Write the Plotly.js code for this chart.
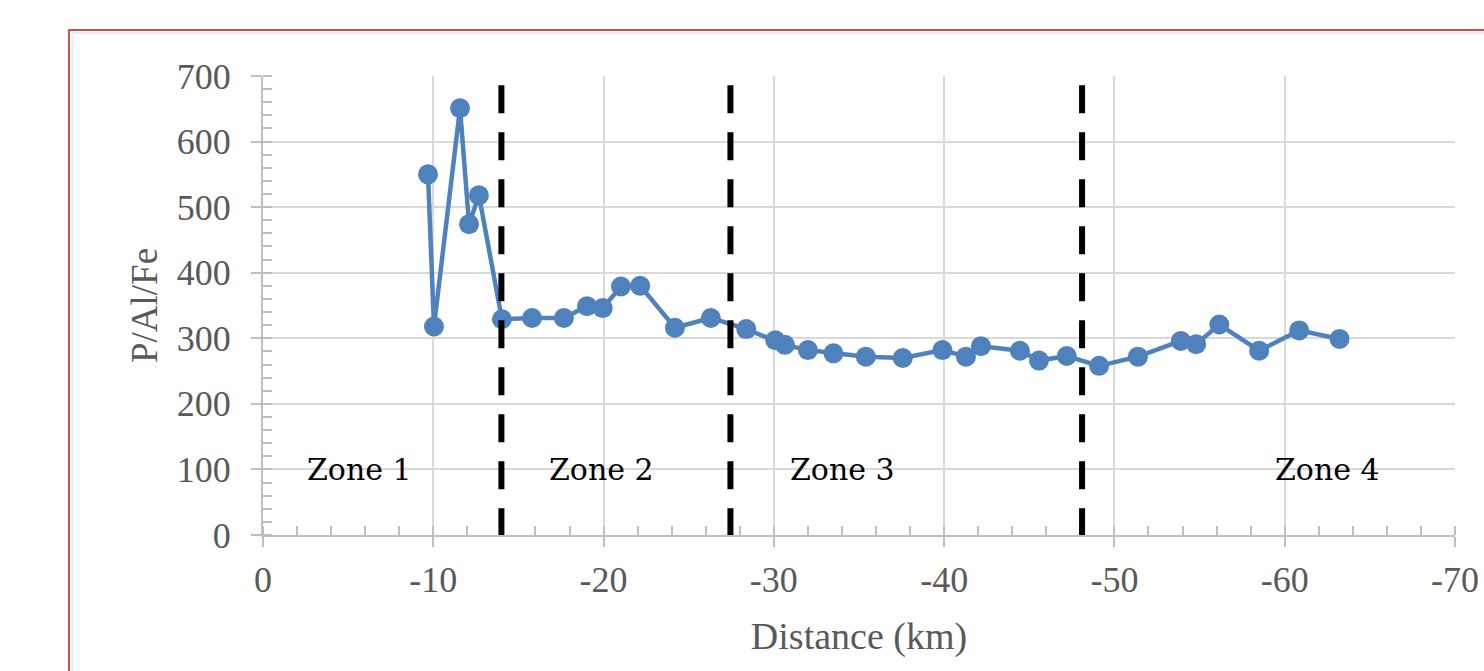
<!DOCTYPE html>
<html>
<head>
<meta charset="utf-8">
<script src="https://cdn.plot.ly/plotly-3.0.1.min.js"></script>
<style>
  html, body { margin: 0; padding: 0; background: #ffffff; }
  #chart { width: 1484px; height: 671px; }
</style>
</head>
<body>
<div id="chart"></div>
<script>
// Distance (km) and P/Al/Fe values
const distanceKm = [-9.69, -10.04, -11.57, -12.10, -12.68, -14.03, -15.8, -17.67, -19.03, -19.95,
  -21.02, -22.15, -24.19, -26.3, -28.38, -30.08, -30.65, -32.0, -33.5, -35.4,
  -37.57, -39.9, -41.28, -42.16, -44.45, -45.57, -47.2, -49.1, -51.38, -53.9,
  -54.8, -56.16, -58.5, -60.85, -63.22];
const pAlFe = [550, 318, 651, 474, 518, 329, 331, 331, 349, 346,
  379, 380, 316, 331, 314, 297, 290, 282, 277, 272,
  270, 282, 272, 288, 281, 266, 273, 258, 272, 296,
  291, 321, 281, 312, 299];

// Zone boundaries (km) and zone labels
const zoneBoundaries = [-14.0, -27.45, -48.1];
const zoneLabels = ["Zone 1", "Zone 2", "Zone 3", "Zone 4"];
const zoneLabelX = [-5.65, -19.85, -34.05, -62.5];
const zoneLabelY = 100;

// Axis ticks
const xTickVals = [0, -10, -20, -30, -40, -50, -60, -70];
const xTickText = ["0", "-10", "-20", "-30", "-40", "-50", "-60", "-70"];
const yTickVals = [0, 100, 200, 300, 400, 500, 600, 700];

const axisGray = "#bfbfbf";
const gridGray = "#d9d9d9";
const textGray = "#595959";
const serif = "Liberation Serif, Times New Roman, serif";

const trace = {
  x: distanceKm,
  y: pAlFe,
  type: "scatter",
  mode: "lines+markers",
  line: { color: "#4f81bd", width: 4.5 },
  marker: { color: "#4f81bd", size: 20 },
  hoverinfo: "x+y",
  showlegend: false
};

const shapes = zoneBoundaries.map(b => ({
  type: "line", xref: "x", yref: "y",
  x0: b, x1: b, y0: 686, y1: 0,
  line: { color: "#000000", width: 6, dash: "28px,19px" },
  layer: "above"
}));

// outer red frame (partly outside the picture)
shapes.push({
  type: "rect", xref: "paper", yref: "paper",
  x0: -0.1628, x1: 1.2, y0: -0.6, y1: 1.1,
  line: { color: "#c9504e", width: 2 },
  fillcolor: "rgba(0,0,0,0)",
  layer: "below"
});
// faint inner shadow of the frame
shapes.push({
  type: "rect", xref: "paper", yref: "paper",
  x0: -0.1600, x1: 1.2, y0: -0.6, y1: 1.0935,
  line: { color: "#ececec", width: 2 },
  fillcolor: "rgba(0,0,0,0)",
  layer: "below"
});

const annotations = zoneLabels.map((t, i) => ({
  x: zoneLabelX[i], y: zoneLabelY, xref: "x", yref: "y",
  text: t, showarrow: false,
  font: { family: "DejaVu Serif, serif", size: 30, color: "#000000" },
  xanchor: "center", yanchor: "middle"
}));

const layout = {
  width: 1484, height: 671,
  margin: { l: 263, r: 29, t: 76, b: 136 },
  paper_bgcolor: "#ffffff",
  plot_bgcolor: "#ffffff",
  xaxis: {
    range: [0, -70],
    tickvals: xTickVals,
    ticktext: xTickText,
    showgrid: true, gridcolor: gridGray, gridwidth: 2,
    zeroline: false,
    showline: true, linecolor: axisGray, linewidth: 2,
    ticks: "outside", ticklen: 10, tickwidth: 2, tickcolor: axisGray,
    minor: { dtick: 2, ticks: "inside", ticklen: 9, tickwidth: 2, tickcolor: axisGray, showgrid: false },
    ticklabelstandoff: 2,
    tickfont: { family: serif, size: 36, color: textGray },
    title: { text: "Distance (km)", font: { family: serif, size: 38, color: textGray }, standoff: 23 },
    automargin: false,
    mirror: false
  },
  yaxis: {
    range: [0, 700],
    tickvals: yTickVals,
    showgrid: true, gridcolor: gridGray, gridwidth: 2,
    zeroline: false,
    showline: true, linecolor: axisGray, linewidth: 2,
    ticks: "outside", ticklen: 10, tickwidth: 2, tickcolor: axisGray,
    minor: { dtick: 20, ticks: "inside", ticklen: 9, tickwidth: 2, tickcolor: axisGray, showgrid: false },
    ticklabelstandoff: 13,
    tickfont: { family: serif, size: 36, color: textGray },
    title: { text: "P/Al/Fe", font: { family: serif, size: 37, color: textGray }, standoff: 8 },
    automargin: false
  },
  shapes: shapes,
  annotations: annotations
};

Plotly.newPlot("chart", [trace], layout, { displayModeBar: false, staticPlot: true });
</script>
</body>
</html>
